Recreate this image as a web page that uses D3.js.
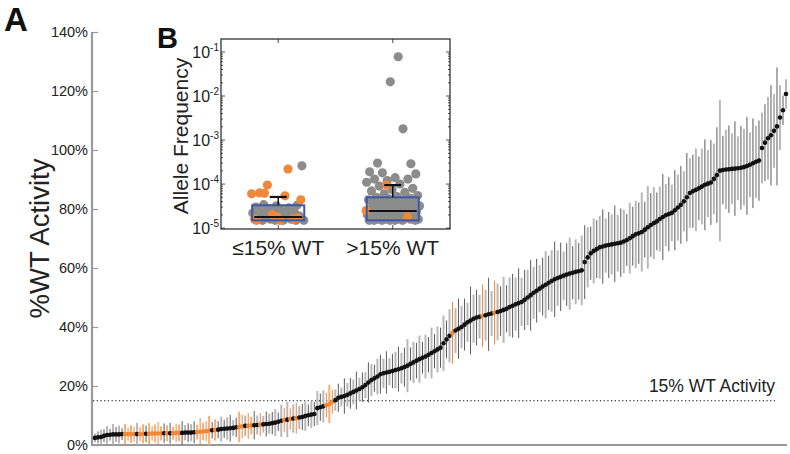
<!DOCTYPE html>
<html><head><meta charset="utf-8">
<script src="https://cdn.jsdelivr.net/npm/d3@7"></script>
<style>body{margin:0;background:#fff}svg{display:block;font-family:"Liberation Sans",Arial,Helvetica,sans-serif}</style>
</head><body><svg id="c" width="790" height="454"></svg>
<script>
// ---------- Panel A data: %WT activity, sorted ----------
const activity = [
2.4,2.6,2.7,3.1,3.4,3.5,3.6,3.6,3.6,3.7,
3.7,3.7,3.7,3.7,3.7,3.7,3.8,3.8,3.8,3.9,
3.9,3.9,3.9,4.0,4.0,4.0,4.0,4.1,4.1,4.1,
4.2,4.2,4.2,4.3,4.4,4.5,4.6,4.7,4.9,5.0,
5.1,5.2,5.4,5.5,5.6,5.7,5.8,6.0,6.1,6.3,
6.5,6.5,6.6,6.7,6.8,6.9,7.0,7.1,7.2,7.4,
7.6,7.9,8.2,8.5,8.6,8.8,9.0,9.1,9.3,9.5,
9.8,10.1,10.3,10.5,12.5,12.8,13.1,13.5,13.9,14.6,
15.2,16.0,16.3,16.6,17.0,17.5,18.0,18.5,19.0,19.6,
20.3,21.2,22.0,22.6,23.2,24.0,24.3,24.6,24.8,25.1,
25.4,25.7,26.0,26.4,26.9,27.5,28.0,28.6,29.1,29.6,
30.0,30.6,31.2,31.8,32.4,33.0,34.5,35.8,37.0,38.0,
38.8,39.4,40.0,40.8,41.6,42.2,42.8,43.2,43.5,43.8,
44.0,44.3,44.6,44.9,45.1,45.4,45.8,46.2,46.8,47.2,
47.7,48.1,48.5,49.2,50.0,50.8,51.6,52.3,53.0,53.7,
54.3,55.0,55.6,56.2,56.6,57.0,57.4,57.8,58.1,58.4,
58.7,58.9,59.2,62.0,63.6,65.0,65.8,66.4,67.0,67.3,
67.6,67.8,68.0,68.2,68.4,68.6,69.0,69.5,70.1,70.8,
71.4,71.8,72.2,73.0,73.8,74.6,75.2,75.8,76.6,77.3,
77.9,78.3,78.7,79.6,80.5,81.4,82.6,84.0,85.4,86.0,
86.5,87.0,87.6,88.2,88.6,89.0,90.2,91.5,93.0,93.2,
93.4,93.5,93.6,93.7,93.8,94.0,94.2,94.6,95.0,95.5,
96.0,96.4,100.7,102.5,104.0,105.0,106.5,108.0,111.0,113.5,
119.0];
const errHalf = [
1.5,2.0,2.5,2.2,3.0,2.0,3.5,2.5,3.0,2.0,
3.4,2.2,3.0,2.6,3.8,2.4,3.2,2.8,3.6,2.5,
3.0,3.9,2.4,3.3,2.7,3.5,2.2,3.1,2.8,4.0,
2.6,3.2,2.9,3.7,2.5,4.6,3.0,3.4,5.0,2.8,
3.6,2.9,4.2,3.1,3.8,4.5,2.7,3.3,5.2,4.0,
3.5,4.4,3.0,4.8,3.2,3.9,2.8,4.2,3.4,3.8,
4.6,3.1,5.5,4.0,6.0,3.6,4.8,5.2,3.9,4.4,
5.0,3.7,4.5,4.1,5.8,4.6,5.4,4.2,6.5,4.0,
3.6,4.8,3.2,6.0,4.0,5.2,4.2,6.4,3.8,5.0,
4.4,6.8,5.4,4.6,6.0,6.6,5.0,7.2,4.6,5.8,
6.2,7.6,5.2,6.6,9.0,5.6,7.0,6.0,8.0,5.4,
7.4,6.0,8.6,5.8,7.8,6.8,9.4,6.4,9.0,10.5,
7.6,10.2,7.2,8.8,6.6,11.5,8.2,9.4,7.4,10.6,
8.6,12.4,7.6,10.8,9.6,8.4,11.2,8.0,10.0,10.8,
9.0,11.8,8.2,10.2,9.4,12.0,8.8,10.8,8.0,9.8,
11.4,9.2,10.4,12.8,9.4,11.6,8.2,10.6,12.2,9.0,
11.0,9.6,11.8,12.5,10.2,9.0,11.0,9.8,10.6,12.6,
9.2,11.2,10.2,13.0,9.6,11.6,10.8,8.8,12.0,10.0,
11.4,10.4,13.4,9.4,14.0,10.8,12.2,9.8,11.0,14.6,
10.6,12.6,9.6,13.6,11.2,13.2,10.2,15.0,11.8,12.4,
14.0,10.8,12.8,15.4,11.4,14.4,12.0,16.2,24.0,11.6,
13.4,14.8,12.0,16.0,10.8,14.2,13.0,16.6,11.0,15.2,
12.2,13.6,12.0,13.0,14.0,17.0,12.5,20.0,11.0,5.0,
5.0];
// indices of the variants drawn in orange
const orangeIdx = [10,11,12,13,15,16,18,19,20,21,22,24,26,27,28,34,35,36,37,38,40,48,49,51,52,55,63,65,67,77,78,79,119,129,133];
const yTicksA = [0,20,40,60,80,100,120,140];
const threshold = 15;
const thresholdLabel = "15% WT Activity";

// ---------- Panel B data: allele frequency ----------
const categories = ["\u226415% WT", ">15% WT"];
const lowGrayAF = [3.4e-5,3.3e-5,3.2e-5,3.0e-5,2.9e-5,2.8e-5,2.6e-4,2.6e-5,2.5e-5,2.4e-5,2.3e-5,2.2e-5,2.1e-5,2.0e-5,1.9e-5,1.8e-5,1.7e-5,1.6e-5,1.6e-5,1.5e-5,1.5e-5,1.5e-5,1.5e-5,1.5e-5];
const lowOrangeAF = [1.6e-5,2.2e-4,9.5e-5,4.4e-5,1.5e-5,6.3e-5,1.6e-5,2.0e-5,6.0e-5,5.4e-5,6.2e-5,1.7e-5,1.8e-5,1.5e-5];
const highGrayAF = [7.8e-2,3.0e-4,2.9e-4,2.1e-2,1.9e-4,1.8e-3,1.8e-4,1.7e-4,1.4e-4,1.3e-4,1.3e-4,1.2e-4,1.1e-4,1.0e-4,9.0e-5,8.0e-5,7.5e-5,7.0e-5,6.5e-5,6.0e-5,5.5e-5,5.2e-5,5.0e-5,4.8e-5,4.6e-5,4.4e-5,4.2e-5,4.0e-5,3.8e-5,3.6e-5,3.5e-5,3.4e-5,3.3e-5,3.2e-5,3.1e-5,3.0e-5,2.9e-5,2.8e-5,2.7e-5,2.6e-5,2.5e-5,2.4e-5,2.3e-5,2.2e-5,2.2e-5,2.1e-5,2.0e-5,2.0e-5,1.9e-5,1.9e-5,1.8e-5,1.7e-5,1.7e-5,1.6e-5,1.6e-5,1.6e-5,1.6e-5,1.6e-5,1.5e-5,1.5e-5,1.5e-5,1.5e-5,1.5e-5,1.5e-5,1.5e-5];
const highOrangeAF = [1.8e-5,9.5e-5,2.5e-5];
const boxQ1 = [1.5e-5,1.5e-5];
const boxMedian = [1.8e-5,2.45e-5];
const boxQ3 = [3.3e-5,5.0e-5];
const whiskerTop = [5.1e-5,9.5e-5];
const yTicksB = [1e-5,1e-4,1e-3,1e-2,1e-1];

// ---------- drawing ----------
const svg = d3.select("#c");
const ORANGE = "#f0883a", ORANGE_L = "#f6ad74", GRAY_L = "#b8b8b8", GRAY_D = "#5a5a5a";
const isOrange = new Set(orangeIdx);

const x = d3.scaleLinear().domain([0, activity.length - 1]).range([95, 786]);
const y = d3.scaleLinear().domain([0, 140]).range([445, 32]);

// axes (ticks pointing inward)
const yAxis = d3.axisLeft(y).tickValues(yTicksA).tickFormat(d => d + "%").tickSize(-6).tickPadding(4);
const gy = svg.append("g").attr("transform", "translate(92,0)").call(yAxis);
gy.select(".domain").attr("stroke", "#999").attr("stroke-width", 2.2).attr("d", `M0,${y(140)}V${y(0)}`);
gy.selectAll(".tick line").attr("stroke", "#999").attr("stroke-width", 1.2);
gy.selectAll(".tick text").attr("x", -4).attr("font-size", 14.5).attr("fill", "#222")
  .attr("font-family", "Liberation Sans, Arial, sans-serif");

svg.append("line").attr("x1", 91).attr("x2", 787).attr("y1", y(0)).attr("y2", y(0))
  .attr("stroke", "#999").attr("stroke-width", 2.2);

// threshold
svg.append("line").attr("x1", 93).attr("x2", 777).attr("y1", y(threshold)).attr("y2", y(threshold))
  .attr("stroke", "#111").attr("stroke-width", 1).attr("stroke-dasharray", "1.3,2.4");
svg.append("text").attr("x", 775).attr("y", y(threshold) - 9).attr("text-anchor", "end")
  .attr("font-size", 17.5).attr("fill", "#222").text(thresholdLabel);

// error bars
svg.append("g").selectAll("line").data(activity).join("line")
  .attr("x1", (d, i) => x(i)).attr("x2", (d, i) => x(i))
  .attr("y1", (d, i) => y(d + errHalf[i])).attr("y2", (d, i) => y(Math.max(0, d - errHalf[i])))
  .attr("stroke", (d, i) => isOrange.has(i) ? (i % 2 ? ORANGE : ORANGE_L) : (i % 2 ? GRAY_D : GRAY_L))
  .attr("stroke-width", (d, i) => i % 2 ? 1 : 2);

// points
svg.append("g").selectAll("circle").data(activity).join("circle")
  .attr("cx", (d, i) => x(i)).attr("cy", d => y(d)).attr("r", 2.3)
  .attr("fill", (d, i) => isOrange.has(i) ? ORANGE : "#111");

// axis title
svg.append("text").attr("transform", `translate(49,${(y(0)+y(140))/2}) rotate(-90)`)
  .attr("text-anchor", "middle").attr("font-size", 27.5).attr("fill", "#222").text("%WT Activity");

// panel label A
svg.append("text").attr("x", 4).attr("y", 31).attr("font-size", 33).attr("font-weight", "bold").attr("fill", "#111").text("A");

// ---------- inset B ----------
const L = 221, R = 450, T = 39, B = 229;
const yb = d3.scaleLog().domain([Math.pow(10, -5.02), Math.pow(10, -0.705)]).range([B, T]);
const xb = d3.scalePoint().domain(categories).range([L, R]).padding(0.5);

svg.append("rect").attr("x", L).attr("y", T).attr("width", R - L).attr("height", B - T)
  .attr("fill", "#fff").attr("stroke", "#222").attr("stroke-width", 1.2);

// minor + major ticks (left and right, inward)
const minor = [];
for (let e = -5; e <= -1; e++) for (let m = 1; m <= 9; m++) { const v = m * Math.pow(10, e); if (v <= Math.pow(10, -0.705)) minor.push(v); }
const tk = svg.append("g").attr("stroke", "#222").attr("stroke-width", 0.8);
minor.forEach(v => {
  const len = yTicksB.includes(v) ? 4 : 2;
  tk.append("line").attr("x1", L).attr("x2", L + len).attr("y1", yb(v)).attr("y2", yb(v));
  tk.append("line").attr("x1", R).attr("x2", R - len).attr("y1", yb(v)).attr("y2", yb(v));
});
categories.forEach(c => {
  tk.append("line").attr("x1", xb(c)).attr("x2", xb(c)).attr("y1", B).attr("y2", B - 4);
  tk.append("line").attr("x1", xb(c)).attr("x2", xb(c)).attr("y1", T).attr("y2", T + 4);
});

// tick labels
yTicksB.forEach(v => {
  const t = svg.append("text").attr("x", L - 2).attr("y", yb(v) + 6).attr("text-anchor", "end")
    .attr("font-size", 16).attr("fill", "#222");
  t.append("tspan").text("10");
  t.append("tspan").attr("font-size", 10).attr("dy", -7).text(String(Math.round(Math.log10(v))));
});
categories.forEach(c => {
  svg.append("text").attr("x", xb(c)).attr("y", 255).attr("text-anchor", "middle")
    .attr("font-size", 21).attr("fill", "#222").text(c);
});
svg.append("text").attr("transform", `translate(188,${(T + B) / 2 + 2}) rotate(-90)`)
  .attr("text-anchor", "middle").attr("font-size", 21).attr("fill", "#222").text("Allele Frequency");
svg.append("text").attr("x", 157).attr("y", 48).attr("font-size", 29).attr("font-weight", "bold").attr("fill", "#111").text("B");

// jittered points (deterministic low-discrepancy horizontal jitter)
const groups = [
  { gray: lowGrayAF, orange: lowOrangeAF, c: categories[0], phase: 0.23 },
  { gray: highGrayAF, orange: highOrangeAF, c: categories[1], phase: 0.6 }
];
groups.forEach(g => {
  const cx = xb(g.c);
  const pts = g.gray.map(v => ({ v, o: false })).concat(g.orange.map(v => ({ v, o: true })));
  pts.forEach((d, k) => {
    const f = ((k * 0.6180339 + g.phase) % 1) - 0.5;
    d.px = cx + f * 54;
    d.py = yb(d.v);
  });
  svg.append("g").selectAll("circle").data(pts).join("circle")
    .attr("cx", d => d.px).attr("cy", d => d.py).attr("r", 4.6)
    .attr("fill", d => d.o ? ORANGE : "#8c8c8c");
});

// boxes
categories.forEach((c, i) => {
  const cx = xb(c), hw = 26;
  svg.append("rect").attr("x", cx - hw).attr("y", yb(boxQ3[i])).attr("width", 2 * hw)
    .attr("height", yb(boxQ1[i]) - yb(boxQ3[i])).attr("fill", "none").attr("stroke", "#3f56a6").attr("stroke-width", 2);
  svg.append("line").attr("x1", cx - hw + 2).attr("x2", cx + hw - 2).attr("y1", yb(boxMedian[i])).attr("y2", yb(boxMedian[i]))
    .attr("stroke", "#111").attr("stroke-width", 2);
  svg.append("line").attr("x1", cx).attr("x2", cx).attr("y1", yb(boxQ3[i])).attr("y2", yb(whiskerTop[i]))
    .attr("stroke", "#111").attr("stroke-width", 1.5);
  svg.append("line").attr("x1", cx - 8.5).attr("x2", cx + 8.5).attr("y1", yb(whiskerTop[i])).attr("y2", yb(whiskerTop[i]))
    .attr("stroke", "#111").attr("stroke-width", 2.2);
});
</script></body></html>
